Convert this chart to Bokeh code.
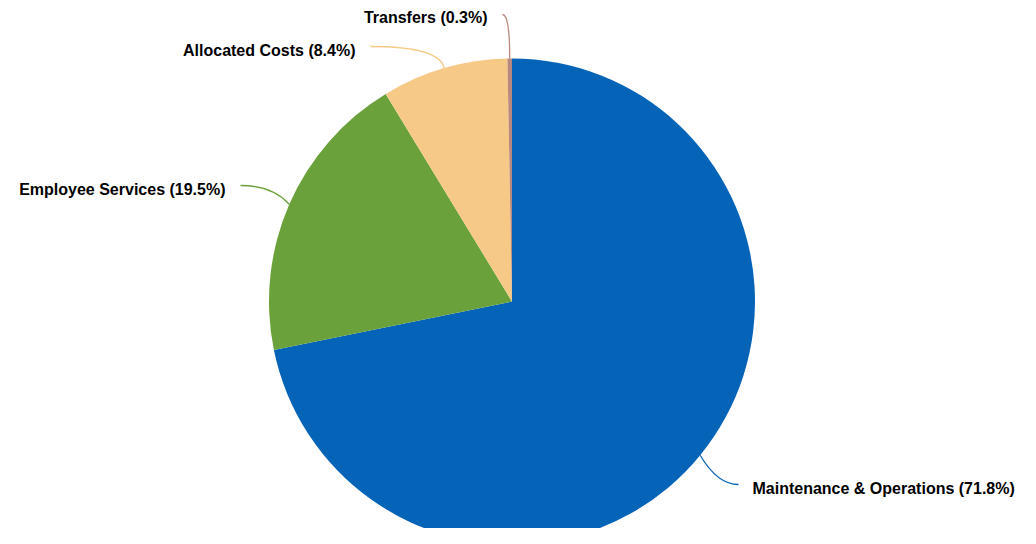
import math
from bokeh.plotting import figure
from bokeh.models import Range1d, ColumnDataSource
from bokeh.core.properties import value
from bokeh.embed import file_html
from bokeh.resources import INLINE

# ---- data ----
categories = ["Maintenance & Operations", "Employee Services", "Allocated Costs", "Transfers"]
shares = [71.8, 19.5, 8.4, 0.3]
colors = ["#0563b8", "#6aa13a", "#f7c986", "#b8877e"]

W, H = 1020, 528
p = figure(width=W, height=H, output_backend="svg", toolbar_location=None,
           x_range=Range1d(0, W), y_range=Range1d(0, H), min_border=0)
p.axis.visible = False
p.grid.visible = False
p.outline_line_color = None
p.background_fill_color = "white"

# layout (screen pixel -> data)
def px(x):
    return x

def py(y):
    return H - y

cx, cy, R = px(511.5), py(301), 243.0

total = sum(shares)
starts, ends, mids = [], [], []
a = math.pi / 2
for s in shares:
    span = 2 * math.pi * s / total
    starts.append(a)
    ends.append(a - span)
    mids.append(a - span / 2)
    a -= span

src = ColumnDataSource(dict(start=starts, end=ends, color=colors))
p.wedge(x=cx, y=cy, radius=R, start_angle="start", end_angle="end",
        direction="clock", fill_color="color", line_color=None, source=src)

# label layout: connector endpoint (screen px), text side, text offset, crook
label_ends = [(738, 484, "left", 14, 0.45), (240, 185, "right", 15, 0.35),
              (370, 46, "right", 15, 0.06), (502, 14, "right", 15, 0.0)]
for i, cat in enumerate(categories):
    m = mids[i]
    x0, y0 = cx + R * math.cos(m), cy + R * math.sin(m)
    ex, ey, side, off, k = label_ends[i]
    x1, y1 = px(ex), py(ey)
    xc, yc = x0 + k * (x1 - x0), y1
    p.quadratic(x0=[x0], y0=[y0], x1=[x1], y1=[y1], cx=[xc], cy=[yc],
                line_color=colors[i], line_width=1.3)
    if side == "left":
        tx, align = x1 + off, "left"
    else:
        tx, align = x1 - off, "right"
    dy = -3 if i == 3 else -4
    p.text(x=[tx], y=[y1 + dy], text=[f"{cat} ({shares[i]}%)"],
           text_font=value("Liberation Sans"), text_font_style="bold",
           text_font_size="16px", text_color="#000000",
           text_align=align, text_baseline="middle")

open("out.html", "w").write(file_html(p, INLINE))
